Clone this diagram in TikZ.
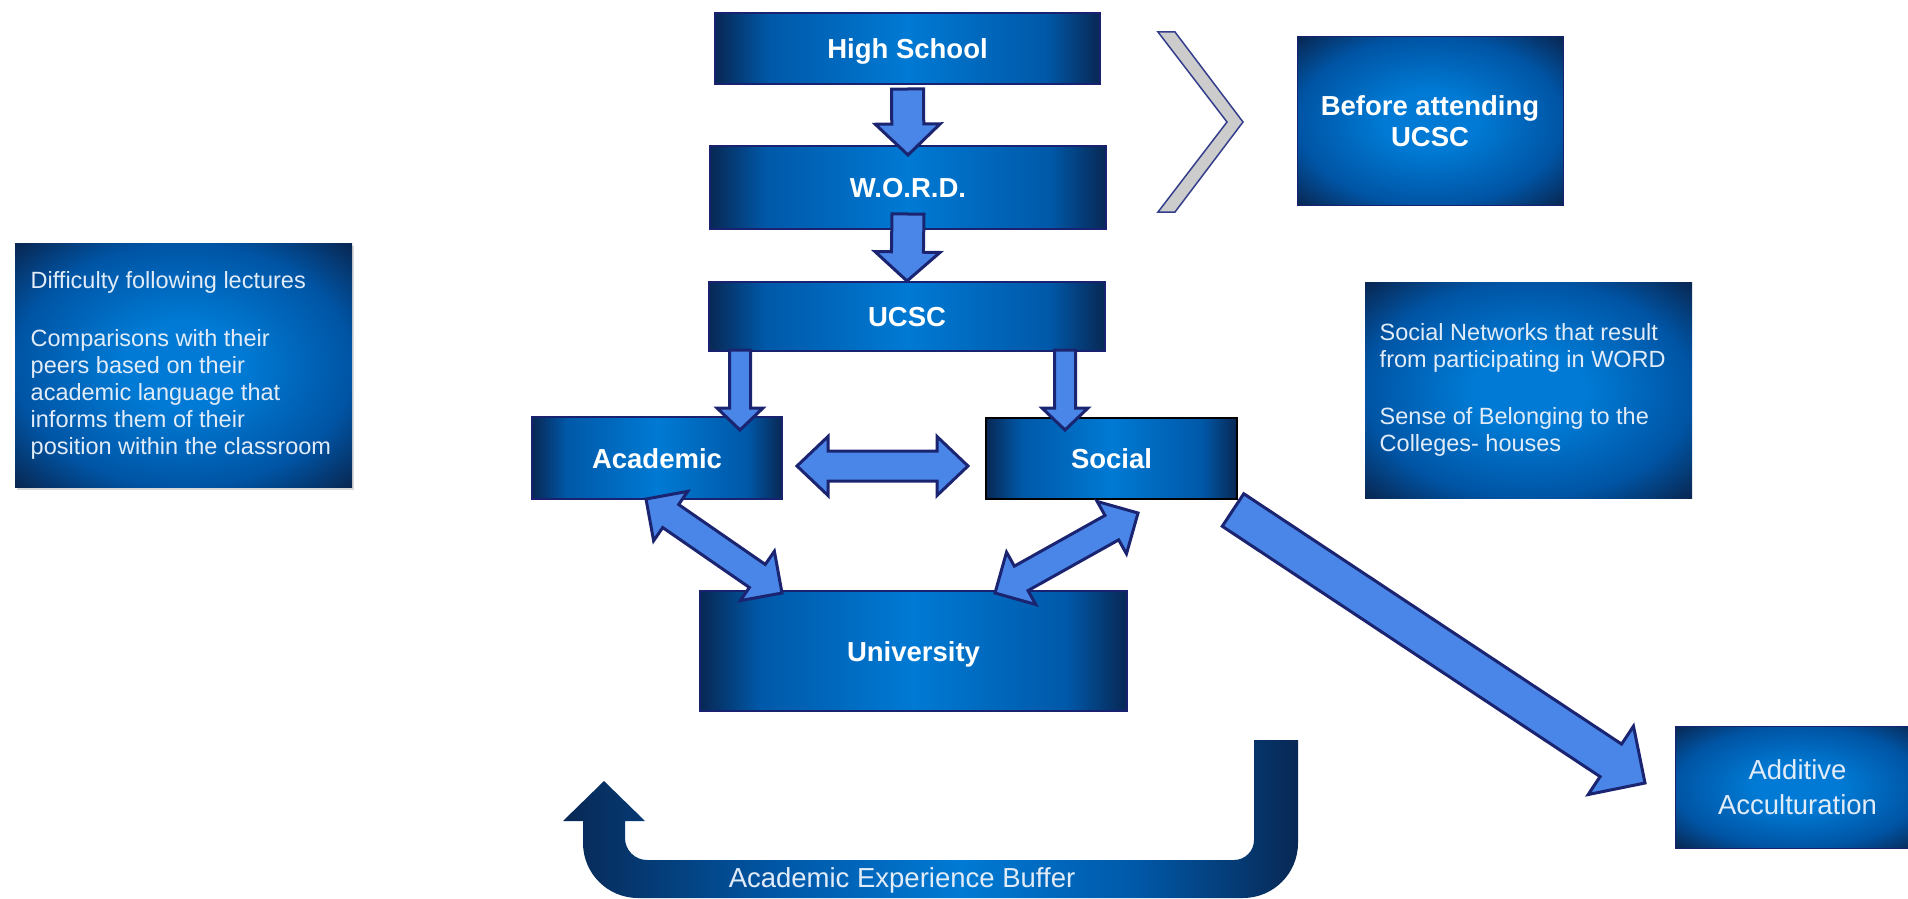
\documentclass[tikz,border=0pt]{standalone}
\usepackage{fontspec}
\setmainfont{Liberation Sans}
\usetikzlibrary{calc,shadows}

\definecolor{bxedge}{RGB}{8,40,84}
\definecolor{bxramp}{RGB}{0,88,168}
\definecolor{bxmid}{RGB}{0,122,212}
\definecolor{glowedge}{RGB}{0,84,164}
\definecolor{boxline}{RGB}{24,34,112}
\definecolor{arrowfill}{RGB}{74,134,232}
\definecolor{arrowline}{RGB}{26,36,112}
\definecolor{chevfill}{RGB}{204,204,204}
\definecolor{chevline}{RGB}{52,62,140}
\definecolor{paletext}{RGB}{226,236,248}

% bright centre fading to navy at the left and right ends
\pgfdeclarehorizontalshading{barglow}{100bp}{color(0bp)=(bxedge); color(25bp)=(bxedge); color(32bp)=(bxramp); color(50bp)=(bxmid); color(68bp)=(bxramp); color(75bp)=(bxedge); color(100bp)=(bxedge)}
% bright centre fading to navy towards all edges
\pgfdeclareradialshading{boxglow}{\pgfpoint{0bp}{0bp}}{color(0bp)=(bxmid); color(9bp)=(bxmid); color(25bp)=(glowedge); color(35bp)=(bxedge); color(50bp)=(bxedge)}
% the feedback band
\pgfdeclarehorizontalshading{bandglow}{100bp}{color(0bp)=(bxedge); color(25bp)=(bxedge); color(40bp)=(bxramp); color(52bp)=(bxmid); color(64bp)=(bxramp); color(75bp)=(bxedge); color(100bp)=(bxedge)}

\newcommand\boxtitlefont{\fontsize{27.5}{31.5}\selectfont\bfseries}
\newcommand\boxnotefont{\fontsize{23.5}{26.8}\selectfont}
\newcommand\bignotefont{\fontsize{27.5}{35}\selectfont}

% block arrow: from, to, shaft half width, head half width, head length
\newcommand\onewayarrow[5]{%
  \path ($(#2)!#5!(#1)$) coordinate (sa-base);
  \draw[blockarrow] ($(#1)!#3!90:(#2)$) -- ($(sa-base)!#3!90:(#2)$) -- ($(sa-base)!#4!90:(#2)$)
    -- (#2) -- ($(sa-base)!#4!-90:(#2)$) -- ($(sa-base)!#3!-90:(#2)$) -- ($(#1)!#3!-90:(#2)$) -- cycle;}
% double-headed block arrow, same arguments
\newcommand\twowayarrow[5]{%
  \path ($(#1)!#5!(#2)$) coordinate (da-one) ($(#2)!#5!(#1)$) coordinate (da-two);
  \draw[blockarrow] (#1) -- ($(da-one)!#4!90:(#2)$) -- ($(da-one)!#3!90:(#2)$)
    -- ($(da-two)!#3!-90:(#1)$) -- ($(da-two)!#4!-90:(#1)$) -- (#2)
    -- ($(da-two)!#4!90:(#1)$) -- ($(da-two)!#3!90:(#1)$)
    -- ($(da-one)!#3!-90:(#2)$) -- ($(da-one)!#4!-90:(#2)$) -- cycle;}

\begin{document}
\begin{tikzpicture}[x=1pt,y=-1pt,
  bar/.style={draw=boxline, line width=2pt, shade, shading=barglow, text=white, font=\boxtitlefont,
    inner sep=0pt, text height=20pt, text depth=0pt},
  glowbox/.style={draw=boxline, line width=1pt, shade, shading=boxglow, inner sep=0pt},
  blockarrow/.style={fill=arrowfill, draw=arrowline, line width=3pt, line join=miter},
  notes/.style={text=paletext, font=\boxnotefont, align=left, inner sep=0pt, anchor=west},
]
\useasboundingbox (0,0) rectangle (1908,899);
\begin{scope}
\clip (0,0) rectangle (1908,899);

% main stages
\node[bar, minimum width=385pt, minimum height=71pt] (hs) at (907.5,48.5) {High School};
\node[bar, minimum width=396pt, minimum height=83pt] (word) at (908,187.5) {W.O.R.D.};
\node[bar, minimum width=396pt, minimum height=69pt] (ucsc) at (907,316.5) {UCSC};
\node[bar, minimum width=250pt, minimum height=82pt] (acad) at (657,458) {Academic};
\node[bar, draw=black, minimum width=251pt, minimum height=81pt] (social) at (1111.5,458.5) {Social};
\node[bar, minimum width=427pt, minimum height=120pt] (univ) at (913.5,651) {University};

% bracket and side boxes
\draw[fill=chevfill, draw=chevline, line width=1.5pt, line join=miter]
  (1158,32) -- (1175,32) -- (1243,122) -- (1175,212) -- (1158,212) -- (1227,122) -- cycle;
\node[glowbox, minimum width=266pt, minimum height=168pt, text=white, font=\boxtitlefont, align=center]
  (before) at (1430,121) {Before attending\\UCSC};

\node[glowbox, draw=none, drop shadow={shadow xshift=2pt, shadow yshift=-3pt, opacity=0.3},
  minimum width=337pt, minimum height=244pt] (diff) at (183.5,365) {};
\node[notes] (difftext) at ($(diff.west)+(16,0)$) {Difficulty following lectures\\[32pt]Comparisons with their\\peers based on their\\academic language that\\informs them of their\\position within the classroom};

\node[glowbox, draw=none, minimum width=327pt, minimum height=216pt] (socnet) at (1528.5,390) {};
\node[notes] (socnettext) at ($(socnet.west)+(15,0)$) {Social Networks that result\\from participating in WORD\\[31pt]Sense of Belonging to the\\Colleges- houses};

\node[glowbox, minimum width=245pt, minimum height=122pt, text=paletext, font=\bignotefont, align=center]
  (addit) at (1797.5,787) {Additive\\Acculturation};

% feedback band under the university box
\shade[shading=bandglow]
  (1254,740) -- (1298,740) -- (1298,843)
  .. controls (1298,873.4) and (1273.4,898) .. (1243,898)
  -- (638,898)
  .. controls (607.6,898) and (583,873.4) .. (583,843)
  -- (583,821) -- (563,821) -- (604,781) -- (645,821) -- (625,821) -- (625,838)
  .. controls (625,850.1) and (634.9,860) .. (647,860)
  -- (1234,860)
  .. controls (1245,860) and (1254,851) .. (1254,840) -- cycle;
\node[text=paletext, font=\bignotefont] (buffer) at (902,880) {Academic Experience Buffer};

% arrow end points
\coordinate (hs-out) at ($(hs.south)+(0,4)$);
\coordinate (word-in) at ($(word.north)+(0,10)$);
\coordinate (word-out) at ($(word.south)+(0,-16)$);
\coordinate (ucsc-in) at (ucsc.north);
\coordinate (ucsc-left) at (740,350);
\coordinate (acad-in) at (740,430);
\coordinate (ucsc-right) at (1065,350);
\coordinate (social-in) at (1065,430);
\coordinate (acad-side) at (797,466);
\coordinate (social-side) at (968,466);
\coordinate (acad-low) at (646,499);
\coordinate (univ-left) at (782,593);
\coordinate (social-low) at (1138,513);
\coordinate (univ-right) at (995,593);
\coordinate (social-out) at (1233,510);
\coordinate (addit-in) at (1645,783);

\onewayarrow{hs-out}{word-in}{16pt}{32.5pt}{31pt}
\onewayarrow{word-out}{ucsc-in}{16pt}{32.5pt}{29pt}
\onewayarrow{ucsc-left}{acad-in}{10.5pt}{23pt}{22pt}
\onewayarrow{ucsc-right}{social-in}{10.5pt}{23pt}{22pt}
\twowayarrow{acad-side}{social-side}{15pt}{29.5pt}{31pt}
\twowayarrow{acad-low}{univ-left}{14pt}{30pt}{30pt}
\twowayarrow{social-low}{univ-right}{14pt}{30pt}{30pt}
\onewayarrow{social-out}{addit-in}{19.5pt}{41pt}{41pt}
\end{scope}
\end{tikzpicture}
\end{document}
